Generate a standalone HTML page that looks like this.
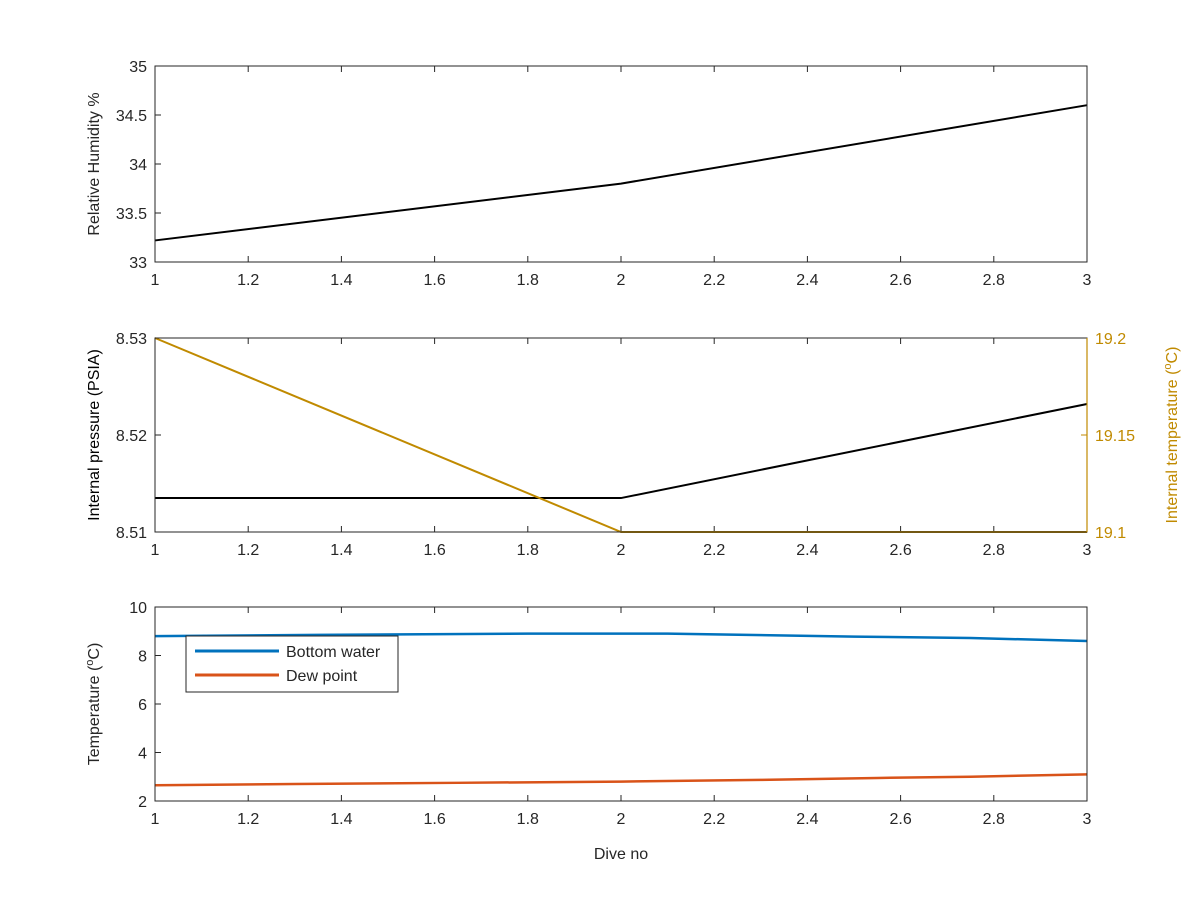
<!DOCTYPE html>
<html><head><meta charset="utf-8"><style>
body{margin:0;background:#fff;}
svg text{font-family:"Liberation Sans",sans-serif;font-size:16px;fill:#262626;}
</style></head><body>
<svg id="c" width="1200" height="900" xmlns="http://www.w3.org/2000/svg"></svg>
<script>
const diveNo=[1,2,3];
const humidity=[33.22,33.8,34.6];
const pressure=[8.5135,8.5135,8.5232];
const intTemp=[19.2,19.1,19.1];
const bwX=[1,1.35,1.8,2.1,2.5,2.75,3];
const bottomWater=[8.8,8.85,8.9,8.9,8.78,8.72,8.6];
const dpX=[1,1.3,1.65,2,2.3,2.55,2.75,3];
const dewPoint=[2.65,2.7,2.75,2.8,2.87,2.95,3.0,3.1];
const xTicks=[1,1.2,1.4,1.6,1.8,2,2.2,2.4,2.6,2.8,3];
const rhTicks=[33,33.5,34,34.5,35];
const pTicks=[8.51,8.52,8.53];
const tTicks=[19.1,19.15,19.2];
const btTicks=[2,4,6,8,10];

const svg=document.getElementById('c');
const NS='http://www.w3.org/2000/svg';
function el(tag,attrs,parent){const e=document.createElementNS(NS,tag);for(const k in attrs)e.setAttribute(k,attrs[k]);(parent||svg).appendChild(e);return e;}
const L=155,R=1087;
function sx(v){return L+(v-1)/2*(R-L);}
function mkY(top,bot,min,max){return v=>bot-(v-min)/(max-min)*(bot-top);}
function panel(name,top,bot,ymin,ymax,yticks,ylabel,ylabColor){
  const g=el('g',{});
  
  
  const y=mkY(top,bot,ymin,ymax);
  xTicks.forEach(t=>{
    el('line',{x1:sx(t),x2:sx(t),y1:bot,y2:bot-6,stroke:'#262626'},g);
    el('line',{x1:sx(t),x2:sx(t),y1:top,y2:top+6,stroke:'#262626'},g);
    const tx=el('text',{x:sx(t),y:bot+23,'text-anchor':'middle'},g);tx.textContent=t;
    
    
  });
  yticks.forEach(t=>{
    el('line',{x1:L,x2:L+6,y1:y(t),y2:y(t),stroke:'#262626'},g);
    const tx=el('text',{x:L-8,y:y(t)+6,'text-anchor':'end'},g);tx.textContent=t;
    
    
  });
  const yl=el('text',{transform:`translate(${L-56},${(top+bot)/2}) rotate(-90)`,'text-anchor':'middle',style:'fill:'+(ylabColor||'#262626')},g);
  yl.innerHTML=ylabel;
  
  
  return {g,y};
}
function frame(g,top,bot,rightColor){
  el('rect',{x:L,y:top,width:R-L,height:bot-top,fill:'none',stroke:'#262626','stroke-width':1},g);
  if(rightColor)el('line',{x1:R,x2:R,y1:top,y2:bot,stroke:rightColor,'stroke-width':1.2},g);
}
function line(g,xs,ys,y,color,w,name){
  const p=el('polyline',{points:xs.map((x,i)=>sx(x)+','+y(ys[i])).join(' '),fill:'none',stroke:color,'stroke-width':w},g);
  
  
}
// Panel 1
let p1=panel('humidity-panel',66,262,33,35,rhTicks,'Relative Humidity %');
line(p1.g,diveNo,humidity,p1.y,'#000',2,'humidity-line');
frame(p1.g,66,262);
// Panel 2
let p2=panel('pressure-panel',338,532,8.51,8.53,pTicks,'Internal pressure (PSIA)','#000');
const yT=mkY(338,532,19.1,19.2);
tTicks.forEach(t=>{
  el('line',{x1:R,x2:R-6,y1:yT(t),y2:yT(t),stroke:'#c08a00'},p2.g);
  const tx=el('text',{x:R+8,y:yT(t)+6,style:'fill:#c08a00'},p2.g);tx.textContent=t;
  
  
});
const yr=el('text',{transform:`translate(${R+90},435) rotate(-90)`,'text-anchor':'middle',style:'fill:#c08a00'},p2.g);
yr.innerHTML='Internal temperature (<tspan font-size="11" dy="-6">o</tspan><tspan dy="6">C)</tspan>';


line(p2.g,diveNo,pressure,p2.y,'#000',2,'pressure-line');
line(p2.g,diveNo,intTemp,yT,'#c08a00',2,'internal-temperature-line');
frame(p2.g,338,532,'#c08a00');
// Panel 3
let p3=panel('temperature-panel',607,801,2,10,btTicks,'Temperature (<tspan font-size="11" dy="-6">o</tspan><tspan dy="6">C)</tspan>');
line(p3.g,bwX,bottomWater,p3.y,'#0072bd',2.5,'bottom-water-line');
line(p3.g,dpX,dewPoint,p3.y,'#d95319',2.5,'dew-point-line');
frame(p3.g,607,801);
const xl=el('text',{x:(L+R)/2,y:859,'text-anchor':'middle'},p3.g);xl.textContent='Dive no';


// legend
const lg=el('g',{},p3.g);


el('rect',{x:186,y:636,width:212,height:56,fill:'#fff',stroke:'#262626'},lg);
el('line',{x1:195,x2:279,y1:651,y2:651,stroke:'#0072bd','stroke-width':3},lg);
el('line',{x1:195,x2:279,y1:675,y2:675,stroke:'#d95319','stroke-width':3},lg);
const t1=el('text',{x:286,y:657},lg);t1.textContent='Bottom water';


const t2=el('text',{x:286,y:681},lg);t2.textContent='Dew point';


</script>
</body></html>
